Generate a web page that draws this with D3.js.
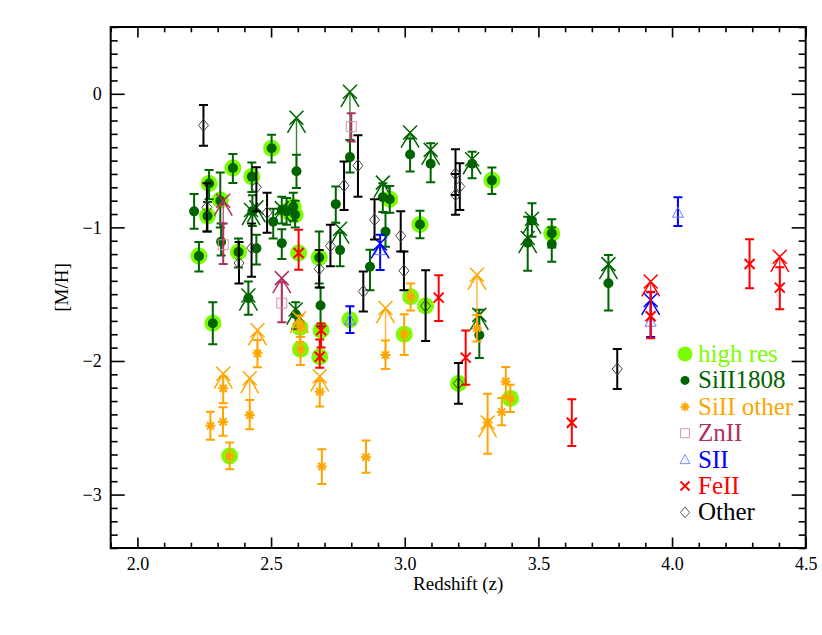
<!DOCTYPE html>
<html>
<head>
<meta charset="utf-8">
<script src="https://cdn.jsdelivr.net/npm/d3@7"></script>
<style>
body{margin:0;background:#fff;}
svg text{font-family:'Liberation Serif','DejaVu Serif','Times New Roman',serif;}
</style>
</head>
<body>
<script>
(function(){

    //high resolution systems, drawn as big light green discs behind the marks [z, M/H]
    var hiRes = [[2.23,-1.215],[2.268,-0.672],[2.262,-0.915],[2.282,-1.717],[2.31,-0.795],
        [2.357,-0.555],[2.378,-1.184],[2.428,-0.62],[2.502,-0.408],[2.558,-0.88],[2.583,-0.845],
        [2.59,-0.905],[2.603,-1.192],[2.608,-1.75],[2.61,-1.912],[2.68,-1.225],[2.687,-1.77],
        [2.682,-1.968],[2.795,-1.692],[2.944,-0.79],[2.998,-1.8],[3.022,-1.52],[3.057,-0.978],
        [3.078,-1.588],[3.201,-2.168],[3.326,-0.648],[3.395,-2.28],[2.345,-2.712],[3.55,-1.045]];

    //measurements [z, M/H, lower end of bar, upper end of bar]
    var siII1808 = [[2.212,-0.88,-1.01,-0.75],[2.23,-1.215,-1.33,-1.11],[2.268,-0.672,-0.79,-0.57],
        [2.262,-0.915,-1.03,-0.81],[2.282,-1.717,-1.875,-1.56],[2.31,-0.80,-1.0,-0.59],
        [2.313,-1.108,-1.21,-0.97],[2.357,-0.555,-0.667,-0.45],[2.378,-1.184,-1.30,-1.083],
        [2.415,-1.53,-1.654,-1.405],[2.428,-0.62,-0.736,-0.514],[2.43,-0.88,-0.99,-0.76],
        [2.445,-1.157,-1.278,-1.055],[2.508,-0.957,-1.083,-0.861],[2.502,-0.408,-0.514,-0.306],
        [2.54,-1.118,-1.236,-1.014],[2.54,-0.87,-0.97,-0.77],[2.558,-0.88,-0.98,-0.78],
        [2.583,-0.845,-0.95,-0.74],[2.59,-0.905,-1.0,-0.8],[2.595,-0.58,-0.706,-0.457],
        [2.592,-1.65,-1.76,-1.56],[2.68,-1.225,-1.42,-1.03],[2.685,-1.585,-1.74,-1.45],
        [2.742,-0.826,-0.966,-0.694],[2.758,-1.17,-1.29,-1.04],[2.795,-0.474,-0.59,-0.345],
        [2.87,-1.295,-1.47,-1.167],[2.918,-0.775,-0.885,-0.67],[2.944,-0.79,-0.89,-0.69],
        [2.928,-1.032,-1.145,-0.89],[3.02,-0.455,-0.582,-0.334],[3.097,-0.523,-0.663,-0.37],
        [3.057,-0.978,-1.081,-0.875],[3.252,-0.524,-0.632,-0.433],[3.326,-0.648,-0.75,-0.552],
        [3.279,-1.805,-1.978,-1.617],[3.46,-1.115,-1.325,-0.92],[3.476,-0.95,-1.07,-0.82],
        [3.55,-1.045,-1.15,-0.94],[3.55,-1.124,-1.257,-1.0],[3.762,-1.418,-1.623,-1.207]];

    var siIIOther = [[2.608,-1.75,-1.86,-1.66],[2.61,-1.912,-2.03,-1.82],[2.682,-2.23,-2.34,-2.15],
        [2.69,-2.79,-2.92,-2.66],[2.928,-1.955,-2.06,-1.846],[3.022,-1.52,-1.622,-1.42],
        [2.998,-1.8,-1.955,-1.651],[3.27,-1.755,-1.855,-1.655],[3.31,-2.46,-2.694,-2.245],
        [3.363,-2.382,-2.482,-2.277],[3.378,-2.153,-2.265,-2.045],[3.395,-2.28,-2.382,-2.178],
        [2.449,-1.943,-2.047,-1.843],[2.321,-2.205,-2.316,-2.117],[2.42,-2.405,-2.511,-2.292],
        [2.32,-2.455,-2.559,-2.346],[2.273,-2.485,-2.59,-2.38],[2.345,-2.712,-2.81,-2.61],
        [2.855,-2.72,-2.836,-2.596]];

    var znII = [[2.321,-1.13,-1.274,-0.97],[2.54,-1.567,-1.71,-1.41],[2.80,-0.246,-0.358,-0.146]];

    var sII = [[2.795,-1.692,-1.79,-1.59],[2.908,-1.17,-1.319,-1.056],[3.92,-1.706,-1.82,-1.486],
        [4.022,-0.89,-0.99,-0.775]];

    var feII = [[2.603,-1.192,-1.317,-1.018],[2.687,-1.77,-1.90,-1.72],[2.682,-1.968,-2.05,-1.84],
        [3.127,-1.526,-1.70,-1.358],[3.228,-1.975,-2.178,-1.771],[3.625,-2.462,-2.636,-2.287],
        [3.92,-1.665,-1.83,-1.481],[4.29,-1.274,-1.456,-1.089],[4.403,-1.451,-1.613,-1.299]];

    var other = [[2.247,-0.236,-0.389,-0.083],[2.26,-0.85,-1.03,-0.67],[2.38,-1.267,-1.42,-1.11],
        [2.445,-0.70,-0.88,-0.55],[2.427,-1.155,-1.37,-0.97],[2.485,-0.89,-1.04,-0.74],
        [2.68,-1.31,-1.45,-1.17],[2.722,-1.138,-1.29,-0.98],[2.773,-0.687,-0.869,-0.507],
        [2.825,-0.537,-0.77,-0.31],[2.845,-1.48,-1.63,-1.33],[2.887,-0.943,-1.09,-0.79],
        [2.985,-1.063,-1.18,-0.88],[2.997,-1.325,-1.47,-1.18],[3.078,-1.588,-1.85,-1.32],
        [3.19,-0.60,-0.757,-0.415],[3.19,-0.757,-0.906,-0.60],[3.206,-0.694,-0.869,-0.52],
        [3.201,-2.168,-2.32,-2.015],[3.795,-2.06,-2.21,-1.91]];

    //lower limits [z, limit value (arrow tip), arrow tail]
    var limSiII1808 = [[2.595,-0.18,-0.58],[2.795,0.015,-0.474],[2.415,-1.51,-1.53],[2.425,-0.87,-0.88],
        [2.445,-0.85,-0.88],[2.54,-0.856,-0.87],[2.592,-1.615,-1.65],[2.758,-1.01,-1.17],
        [2.918,-0.665,-0.775],[3.02,-0.29,-0.455],[3.097,-0.42,-0.523],[3.252,-0.49,-0.524],
        [3.279,-1.655,-1.805],[3.46,-1.08,-1.115],[3.476,-0.935,-0.95],[3.762,-1.275,-1.418]];
    var limSiIIOther = [[2.605,-1.68,-1.75],[2.682,-2.115,-2.23],[2.449,-1.77,-1.943],[2.321,-2.095,-2.205],
        [2.42,-2.13,-2.405],[2.928,-1.604,-1.955],[3.27,-1.355,-1.755],[3.31,-2.46,-2.46]];
    var limZnII = [[2.321,-0.80,-1.13],[2.54,-1.38,-1.567]];
    var limSII = [[2.908,-1.12,-1.17],[3.92,-1.543,-1.706]];
    var limFeII = [[3.92,-1.405,-1.665],[4.403,-1.22,-1.451]];

    //axis ticks
    var xMajor = [2.0, 2.5, 3.0, 3.5, 4.0, 4.5];
    var yMajor = [-3, -2, -1, 0];

    var legendNames = ["high res", "SiII1808", "SiII other", "ZnII", "SII", "FeII", "Other"];

    //colours
    var cHi = "#7cfc00", cGreen = "#006400", cOrange = "#ffa500", cMaroon = "#b03060",
        cBlue = "#0000ff", cRed = "#ff0000", cBlack = "#000000";
    var serif = "'Liberation Serif','DejaVu Serif',serif";

    var width = 822, height = 635;
    var left = 110.7, right = 805.7, top = 27, bottom = 548;

    var svg = d3.select("body").append("svg")
        .attr("width", width)
        .attr("height", height);

    var x = d3.scaleLinear().domain([1.9, 4.5]).range([left, right]);
    var y = d3.scaleLinear().domain([-3.4, 0.5]).range([bottom, top]);

    //marker shapes
    var shapes = {
        star: "M-5,0H5M0,-5V5M-3.6,-3.6L3.6,3.6M-3.6,3.6L3.6,-3.6",
        square: "M-5,-5H5V5H-5Z",
        triangle: "M0,-5.5L5.5,4.5L-5.5,4.5Z",
        cross: "M-5,-5L5,5M-5,5L5,-5",
        diamond: "M0,-6L5,0L0,6L-5,0Z"
    };

    var plot = svg.append("g");

    //high res discs go underneath everything
    plot.selectAll(".hires")
        .data(hiRes)
        .enter()
        .append("circle")
        .attr("cx", function(d){ return x(d[0]); })
        .attr("cy", function(d){ return y(d[1]); })
        .attr("r", 8.5)
        .style("fill", cHi);

    function drawSeries(data, color, shape, opts){
        var g = plot.append("g");
        //error bars
        g.selectAll(".bar").data(data).enter().append("path")
            .attr("d", function(d){
                var px = x(d[0]), y1 = y(d[2]), y2 = y(d[3]);
                return "M" + px + "," + y1 + "V" + y2 +
                    "M" + (px - 4.5) + "," + y1 + "H" + (px + 4.5) +
                    "M" + (px - 4.5) + "," + y2 + "H" + (px + 4.5);
            })
            .style("stroke", color)
            .style("stroke-width", 2)
            .style("fill", "none");
        //marks
        if (shape == "dot"){
            g.selectAll(".mark").data(data).enter().append("circle")
                .attr("cx", function(d){ return x(d[0]); })
                .attr("cy", function(d){ return y(d[1]); })
                .attr("r", 5)
                .style("fill", color);
        } else {
            g.selectAll(".mark").data(data).enter().append("path")
                .attr("transform", function(d){ return "translate(" + x(d[0]) + "," + y(d[1]) + ")"; })
                .attr("d", shapes[shape])
                .style("fill", "none")
                .style("stroke", opts.markColor || color)
                .style("stroke-width", opts.markWidth || 2);
        }
    }

    function drawLimits(data, color){
        var g = plot.append("g");
        g.selectAll(".shaft").data(data).enter().append("line")
            .attr("x1", function(d){ return x(d[0]); })
            .attr("x2", function(d){ return x(d[0]); })
            .attr("y1", function(d){ return y(d[2]); })
            .attr("y2", function(d){ return y(d[1]); })
            .style("stroke", color)
            .style("stroke-width", 1.4)
            .style("stroke-opacity", 0.8);
        g.selectAll(".head").data(data).enter().append("path")
            .attr("transform", function(d){ return "translate(" + x(d[0]) + "," + y(d[1]) + ")"; })
            .attr("d", "M-9,15L0,0L9,15M-7,-7L7,7M-7,7L7,-7")
            .style("fill", "none")
            .style("stroke", color)
            .style("stroke-width", 1.5);
    }

    drawSeries(siII1808, cGreen, "dot", {});
    drawLimits(limSiII1808, cGreen);
    drawSeries(siIIOther, cOrange, "star", {});
    drawLimits(limSiIIOther, cOrange);
    drawSeries(znII, cMaroon, "square", {markColor: "#d890a8", markWidth: 1});
    drawLimits(limZnII, cMaroon);
    drawSeries(sII, cBlue, "triangle", {markColor: "#6a78ff", markWidth: 1});
    drawLimits(limSII, cBlue);
    drawSeries(feII, cRed, "cross", {});
    drawLimits(limFeII, cRed);
    drawSeries(other, cBlack, "diamond", {markColor: "#444", markWidth: 1});

    //axes with inward ticks on all four sides
    var xMinor = d3.range(19, 46).map(function(d){ return d / 10; })
        .filter(function(d){ return xMajor.indexOf(d) < 0; });
    var yMinor = d3.range(-34, 6).map(function(d){ return d / 10; })
        .filter(function(d){ return yMajor.indexOf(d) < 0; });

    function addAxis(axis, tx, ty){
        var a = svg.append("g")
            .attr("transform", "translate(" + tx + "," + ty + ")")
            .call(axis);
        a.attr("font-family", null);
        a.select(".domain").remove();
        a.selectAll("line").style("stroke", "#000").style("stroke-width", 1.6);
        a.selectAll("text").style("font-family", serif)
            .style("font-size", "18px").style("fill", "#000");
        return a;
    }

    addAxis(d3.axisBottom(x).tickValues(xMajor).tickSize(-10.5).tickPadding(9)
        .tickFormat(d3.format(".1f")), 0, bottom);
    addAxis(d3.axisBottom(x).tickValues(xMinor).tickSize(-5.3).tickFormat(""), 0, bottom);
    addAxis(d3.axisTop(x).tickValues(xMajor).tickSize(-10.5).tickFormat(""), 0, top);
    addAxis(d3.axisTop(x).tickValues(xMinor).tickSize(-5.3).tickFormat(""), 0, top);
    addAxis(d3.axisLeft(y).tickValues(yMajor).tickSize(-14).tickPadding(9)
        .tickFormat(d3.format("d")), left, 0);
    addAxis(d3.axisLeft(y).tickValues(yMinor).tickSize(-7).tickFormat(""), left, 0);
    addAxis(d3.axisRight(y).tickValues(yMajor).tickSize(-14).tickFormat(""), right, 0);
    addAxis(d3.axisRight(y).tickValues(yMinor).tickSize(-7).tickFormat(""), right, 0);

    //frame
    svg.append("rect")
        .attr("x", left).attr("y", top)
        .attr("width", right - left).attr("height", bottom - top)
        .style("fill", "none").style("stroke", "#000").style("stroke-width", 2);

    //axis titles
    svg.append("text")
        .attr("x", (left + right) / 2).attr("y", 590)
        .attr("text-anchor", "middle")
        .style("font-family", serif)
        .style("font-size", "19px")
        .text("Redshift (z)");
    svg.append("text")
        .attr("transform", "translate(68," + ((top + bottom) / 2) + ") rotate(-90)")
        .attr("text-anchor", "middle")
        .style("font-family", serif)
        .style("font-size", "19px")
        .text("[M/H]");

    //legend
    var legendColors = [cHi, cGreen, cOrange, cMaroon, cBlue, cRed, cBlack];
    var legendShapes = ["big", "dot", "star", "square", "triangle", "cross", "diamond"];
    var legendStroke = [cHi, cGreen, cOrange, "#d890a8", "#6a78ff", cRed, "#444"];
    var legend = svg.append("g");
    legendNames.forEach(function(name, i){
        var ly = 354 + i * 26.4;
        if (legendShapes[i] == "big"){
            legend.append("circle").attr("cx", 685).attr("cy", ly).attr("r", 7.5).style("fill", cHi);
        } else if (legendShapes[i] == "dot"){
            legend.append("circle").attr("cx", 685).attr("cy", ly).attr("r", 4.5).style("fill", cGreen);
        } else {
            legend.append("path")
                .attr("transform", "translate(685," + ly + ") scale(0.9)")
                .attr("d", shapes[legendShapes[i]])
                .style("fill", "none")
                .style("stroke", legendStroke[i])
                .style("stroke-width", (legendShapes[i] == "star" || legendShapes[i] == "cross") ? 2 : 1);
        }
        legend.append("text")
            .attr("x", 698).attr("y", ly + 8)
            .style("font-family", serif)
            .style("font-size", "25px")
            .style("fill", legendColors[i])
            .text(name);
    });

})();
</script>
</body>
</html>
